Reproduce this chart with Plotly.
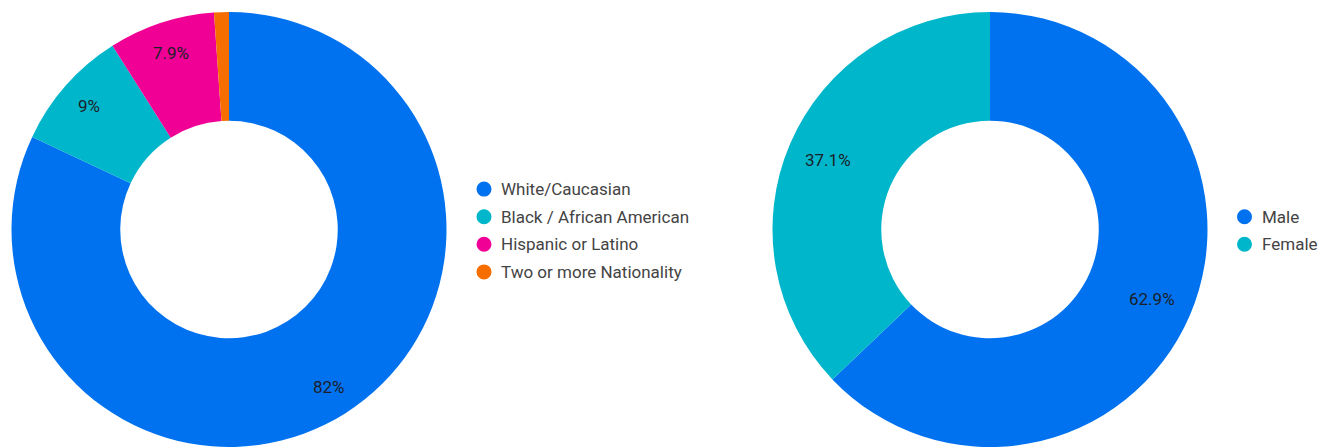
import math
import plotly.graph_objects as go

# Ethnicity breakdown (percent)
eth_labels = ["White/Caucasian", "Black / African American", "Hispanic or Latino", "Two or more Nationality"]
eth_values = [82.0, 9.0, 7.9, 1.1]

# Gender breakdown (percent)
gen_labels = ["Male", "Female"]
gen_values = [62.9, 37.1]

palette = ["#0072F0", "#00B6CB", "#F10096", "#F66D00"]

W, H = 1327, 447
TOP = 12          # free space above the donuts
R = (H - TOP) / 2  # outer radius in px
CY = TOP + R       # donut centre (px from top)

LABEL_FONT = dict(family="Roboto", size=17, color="#1b1f2a")
LEGEND_FONT = dict(family="Roboto", size=17, color="#444444")


def fmt_pct(p):
    return f"{p:.1f}".rstrip("0").rstrip(".") + "%"


def px(x):
    return x / W


def py(y):
    return 1 - y / H


fig = go.Figure()
annotations = []
shapes = []


def add_donut(labels, values, cx, label_r, legend_x, text_x, min_show=5):
    fig.add_trace(go.Pie(
        labels=labels, values=values, hole=0.5, sort=False,
        direction="clockwise", rotation=0,
        marker=dict(colors=palette[:len(values)], line=dict(width=0)),
        textinfo="none",
        domain=dict(x=[px(cx - R), px(cx + R)], y=[0, py(TOP)]),
        showlegend=False, hoverinfo="label+percent",
    ))
    # percentage labels at each slice's mid angle
    total = sum(values)
    start = 0.0
    for v in values:
        frac = v / total
        mid = (start + frac / 2) * 2 * math.pi
        start += frac
        if frac * 100 < min_show:
            continue
        annotations.append(dict(
            x=px(cx + label_r * math.sin(mid)),
            y=py(CY - label_r * math.cos(mid)),
            xref="paper", yref="paper", xanchor="center", yanchor="middle",
            text=fmt_pct(frac * 100), showarrow=False, font=LABEL_FONT,
        ))
    # legend with round markers, centred on the donut
    step = 27.6
    y0 = CY + 1 - step * (len(labels) - 1) / 2
    for i, (lab, col) in enumerate(zip(labels, palette)):
        yy = y0 + i * step
        shapes.append(dict(
            type="circle", xref="paper", yref="paper",
            xsizemode="pixel", ysizemode="pixel",
            xanchor=px(legend_x), yanchor=py(yy),
            x0=-7.5, x1=7.5, y0=-7.5, y1=7.5,
            fillcolor=col, line=dict(width=0),
        ))
        annotations.append(dict(
            x=px(text_x), y=py(yy), xref="paper", yref="paper",
            xanchor="left", yanchor="middle", text=lab, showarrow=False,
            font=LEGEND_FONT,
        ))


add_donut(eth_labels, eth_values, cx=229, label_r=186, legend_x=484, text_x=499)
add_donut(gen_labels, gen_values, cx=990, label_r=176, legend_x=1244.5, text_x=1260)

fig.update_layout(
    width=W, height=H,
    margin=dict(l=0, r=0, t=0, b=0),
    paper_bgcolor="white", plot_bgcolor="white",
    annotations=annotations, shapes=shapes,
    showlegend=False,
)

fig.write_html("out.html")
